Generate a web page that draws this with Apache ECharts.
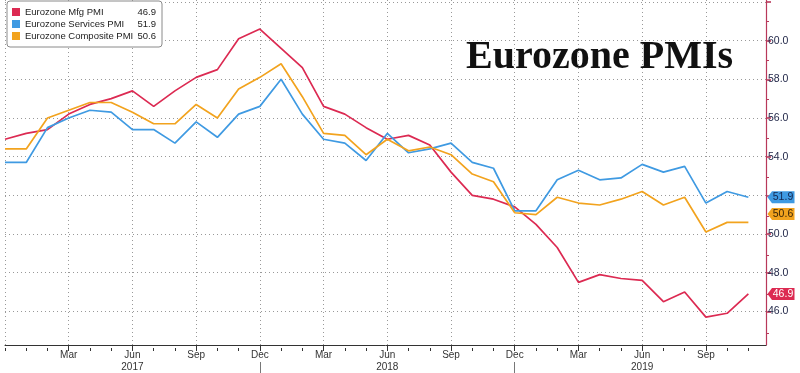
<!DOCTYPE html>
<html><head><meta charset="utf-8">
<script src="https://cdn.jsdelivr.net/npm/echarts@6/dist/echarts.min.js"></script>
<style>html,body{margin:0;padding:0;background:#fff}#c{width:800px;height:373px}</style>
</head><body><div id="c"></div>
<script>
const months = ['Dec 2016','Jan 2017','Feb 2017','Mar 2017','Apr 2017','May 2017','Jun 2017','Jul 2017','Aug 2017','Sep 2017','Oct 2017','Nov 2017',
  'Dec 2017','Jan 2018','Feb 2018','Mar 2018','Apr 2018','May 2018','Jun 2018','Jul 2018','Aug 2018','Sep 2018','Oct 2018','Nov 2018',
  'Dec 2018','Jan 2019','Feb 2019','Mar 2019','Apr 2019','May 2019','Jun 2019','Jul 2019','Aug 2019','Sep 2019','Oct 2019','Nov 2019'];
const seriesNames = ['Eurozone Mfg PMI','Eurozone Services PMI','Eurozone Composite PMI'];
const mfg = [54.9,55.2,55.4,56.2,56.7,57.0,57.4,56.6,57.4,58.1,58.5,60.1,60.6,59.6,58.6,56.6,56.2,55.5,54.9,55.1,54.6,53.2,52.0,51.8,51.4,50.5,49.3,47.5,47.9,47.7,47.6,46.5,47.0,45.7,45.9,46.9];
const services = [53.7,53.7,55.5,56.0,56.4,56.3,55.4,55.4,54.7,55.8,55.0,56.2,56.6,58.0,56.2,54.9,54.7,53.8,55.2,54.2,54.4,54.7,53.7,53.4,51.2,51.2,52.8,53.3,52.8,52.9,53.6,53.2,53.5,51.6,52.2,51.9];
const composite = [54.4,54.4,56.0,56.4,56.8,56.8,56.3,55.7,55.7,56.7,56.0,57.5,58.1,58.8,57.1,55.2,55.1,54.1,54.9,54.3,54.5,54.1,53.1,52.7,51.1,51.0,51.9,51.6,51.5,51.8,52.2,51.5,51.9,50.1,50.6,50.6];
const yLabelValues = [46,48,50,54,56,58,60];
const yMajorTicks = [46,48,50,52,54,56,58,60,62];
const yMinorTicks = [45,47,49,51,53,55,57,59,61];
const yearDividers = [12,24];

const colors = ['#dc2a52','#3f9ae2','#f2a31e'];
const tagText = ['#ffffff','#14264f','#3a2608'];
const tagDy = [0,0,-8.5];
const allSeries = [mfg, services, composite];
const X_MAX = 35.83;
const FONT = 'Liberation Sans';
const GRID = {left: 5, right: 34, top: 0, bottom: 25, containLabel: false};

const monthTicks = months.map((m,i)=>i);

const series = allSeries.map((vals, k) => {
  const last = vals[vals.length-1];
  return {
    name: seriesNames[k], type: 'line', xAxisIndex: 0, yAxisIndex: 0,
    data: vals.map((v,i)=>[i,v]), showSymbol: false, animation: false,
    lineStyle: {width: 1.7, color: colors[k]}, itemStyle: {color: colors[k]},
    markPoint: {
      silent: true, animation: false, z: 20,
      symbol: 'path://M0,6 L5,0 L30,0 L30,12 L5,12 Z',
      symbolSize: [27, 12], symbolKeepAspect: false,
      symbolOffset: [15, tagDy[k]],
      itemStyle: {color: colors[k]},
      label: {show: true, position: 'inside', color: tagText[k], fontFamily: FONT, fontSize: 10.5, offset: [2, 0],
        formatter: p => p.value.toFixed(1)},
      data: [{coord: [X_MAX, last], value: last}]
    }
  };
});

const chart = echarts.init(document.getElementById('c'), null, {renderer: 'canvas'});
chart.setOption({
  backgroundColor: '#fff',
  animation: false,
  title: {text: 'Eurozone PMIs', left: 461, top: 33,
    textStyle: {fontFamily: 'Liberation Serif', fontWeight: 'bold', fontSize: 40, color: '#111'}},
  legend: {
    left: 7, top: 1, orient: 'vertical', padding: [5,6,5,5], itemGap: 0,
    itemWidth: 8, itemHeight: 8, icon: 'rect',
    backgroundColor: '#fff', borderColor: '#8a8a8a', borderWidth: 1, borderRadius: 3,
    data: seriesNames,
    formatter: name => {
      const k = seriesNames.indexOf(name);
      const v = allSeries[k][allSeries[k].length-1];
      return '{n|' + name + '}{v|' + v.toFixed(1) + '}';
    },
    textStyle: {fontFamily: FONT, fontSize: 9.5, color: '#222', lineHeight: 12,
      rich: {n: {width: 109, fontFamily: FONT, fontSize: 9.5, color: '#222'},
             v: {width: 22, align: 'right', fontFamily: FONT, fontSize: 9.5, color: '#222'}}}
  },
  grid: [Object.assign({}, GRID), Object.assign({}, GRID)],
  xAxis: [
    {type: 'value', gridIndex: 0, min: 0, max: X_MAX, interval: 3,
      axisLine: {show: true, onZero: false, lineStyle: {color: '#333', width: 1}},
      axisTick: {show: true, length: 4, lineStyle: {color: '#333'}},
      axisLabel: {show: true, margin: 4, fontFamily: FONT, fontSize: 10, color: '#333', lineHeight: 12,
        showMinLabel: false, showMaxLabel: false,
        formatter: v => {
          if (Math.abs(v - Math.round(v)) > 1e-6) return '';
          const m = months[Math.round(v)]; if (!m) return '';
          const parts = m.split(' ');
          return parts[0] === 'Jun' ? parts[0] + '\n' + parts[1] : parts[0];
        }},
      splitLine: {show: true, lineStyle: {color: '#999', type: [1,3], width: 1}}
    },
    {type: 'value', gridIndex: 1, min: 0, max: X_MAX, position: 'bottom',
      axisLine: {show: false, onZero: false}, axisLabel: {show: false}, splitLine: {show: false},
      axisTick: {show: true, length: 3, customValues: monthTicks, lineStyle: {color: '#333'}}
    },
    {type: 'value', gridIndex: 1, min: 0, max: X_MAX, position: 'bottom', offset: 14,
      axisLine: {show: false, onZero: false}, axisLabel: {show: false}, splitLine: {show: false},
      axisTick: {show: true, length: 12, customValues: yearDividers, lineStyle: {color: '#777'}}
    }
  ],
  yAxis: [
    {type: 'value', gridIndex: 0, position: 'right', min: 44.26, max: 62.1,
      axisLine: {show: true, onZero: false, lineStyle: {color: '#b8385a', width: 1.2}},
      axisTick: {show: true, length: 5, customValues: yMajorTicks, lineStyle: {color: '#b8385a', width: 1.6}},
      axisLabel: {show: true, margin: 2, customValues: yLabelValues, fontFamily: FONT, fontSize: 10.5, color: '#1c2244',
        formatter: v => v.toFixed(1)},
      splitLine: {show: true, lineStyle: {color: '#999', type: [1,3], width: 1}}
    },
    {type: 'value', gridIndex: 1, position: 'right', min: 44.26, max: 62.1,
      axisLine: {show: false, onZero: false}, axisLabel: {show: false}, splitLine: {show: false},
      axisTick: {show: true, length: 3, customValues: yMinorTicks, lineStyle: {color: '#b8385a'}}
    }
  ],
  series: series
});
</script></body></html>
